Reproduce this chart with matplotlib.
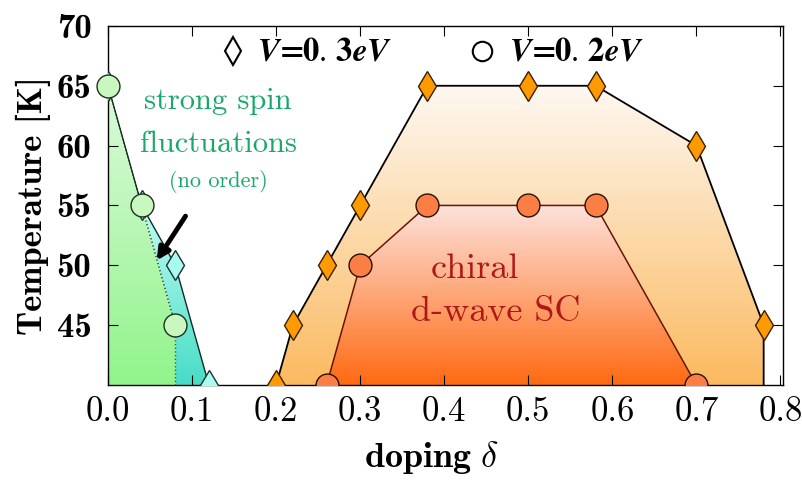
import numpy as np
import matplotlib
matplotlib.use("Agg")
import matplotlib.pyplot as plt
from matplotlib.colors import LinearSegmentedColormap
from matplotlib.patches import Polygon

# ---- data ----
# left region (strong spin fluctuations)
left_circ_x = [0.00, 0.04, 0.08]
left_circ_T = [65, 55, 45]
left_diam_x = [0.00, 0.04, 0.08, 0.12]
left_diam_T = [65, 55, 50, 40]
# right region (chiral d-wave SC)
sc_diam_x = [0.20, 0.22, 0.26, 0.30, 0.38, 0.50, 0.58, 0.70, 0.78]
sc_diam_T = [40, 45, 50, 55, 65, 65, 65, 60, 45]
sc_circ_x = [0.26, 0.30, 0.38, 0.50, 0.58, 0.70]
sc_circ_T = [40, 50, 55, 55, 55, 40]
xticks = [0.0, 0.1, 0.2, 0.3, 0.4, 0.5, 0.6, 0.7, 0.8]
yticks = [45, 50, 55, 60, 65, 70]

fig = plt.figure(figsize=(8.02, 4.8), dpi=100)
ax = fig.add_axes([0.1347, 0.198, 0.8416, 0.748])
ax.set_xlim(0.0, 0.803)
ax.set_ylim(40, 70)
YMIN = 40


def gradient_fill(xs, ys, c_top, c_bot, y_top, z):
    poly = Polygon(np.column_stack([xs, ys]), closed=True, facecolor='none',
                   edgecolor='none', transform=ax.transData)
    ax.add_patch(poly)
    cmap = LinearSegmentedColormap.from_list('g', [c_bot, c_top])
    grad = np.linspace(0, 1, 256).reshape(-1, 1)
    im = ax.imshow(grad, cmap=cmap, extent=[min(xs), max(xs), YMIN, y_top],
                   origin='lower', aspect='auto', zorder=z, interpolation='bilinear')
    im.set_clip_path(poly)


# outer orange region (V=0.3)
ox = [sc_diam_x[0]] + sc_diam_x + [sc_diam_x[-1]]
oy = [YMIN] + sc_diam_T + [YMIN]
gradient_fill(ox, oy, '#fef8f2', '#fbba60', 65, 1)
# inner red/orange region (V=0.2)
ix = sc_circ_x
iy = sc_circ_T
gradient_fill(ix, iy, '#fde2dc', '#ff6a12', 55, 1.1)

# cyan region (between diamond line and circle line)
cx = left_diam_x + [left_circ_x[-1]] + left_circ_x[::-1]
cy = left_diam_T + [YMIN] + left_circ_T[::-1]
gradient_fill(cx, cy, '#c8fff6', '#48dcc6', 56, 1)
# green region
gx = left_circ_x + [left_circ_x[-1], left_circ_x[0]]
gy = left_circ_T + [YMIN, YMIN]
gradient_fill(gx, gy, '#dcfadb', '#92f48c', 65, 1.1)
ax.plot([left_circ_x[-1], left_circ_x[-1]], [left_circ_T[-1], YMIN],
        ls=':', color='#306050', lw=1, zorder=2)

# lines
ax.plot(ox, oy, color='black', lw=1.3, zorder=2)
ax.plot(sc_circ_x, sc_circ_T, color='#6a1408', lw=1.1, zorder=2)
ax.plot(left_diam_x, left_diam_T, color='#102a28', lw=1.0, zorder=2)
ax.plot(left_circ_x, left_circ_T, color='#203a20', lw=1.0, ls=':', zorder=2.1)

# markers
ax.plot(sc_diam_x, sc_diam_T, ls='none', marker='d', ms=15, mfc='#ff9a00',
        mec='#3a2000', mew=1.0, zorder=4)
ax.plot(sc_circ_x, sc_circ_T, ls='none', marker='o', ms=16.5, mfc='#fb7e44',
        mec='#2a1008', mew=1.0, zorder=4)
ax.plot(left_diam_x, left_diam_T, ls='none', marker='d', ms=15, mfc='#a8fbef',
        mec='#203030', mew=1.0, zorder=4)
ax.plot(left_circ_x, left_circ_T, ls='none', marker='o', ms=16.5, mfc='#c8f8c0',
        mec='#203020', mew=1.0, zorder=5, clip_on=False)

# ticks
ax.set_xticks(xticks)
ax.set_yticks(yticks)
ax.set_xticklabels(['%.1f' % v for v in xticks], family='cmr10', fontsize=25)
ax.set_yticklabels([str(v) for v in yticks], family='cmb10', fontsize=25)
ax.tick_params(direction='in', top=True, right=True, length=7, width=0.8)
ax.tick_params(axis='x', pad=8)
ax.tick_params(axis='y', pad=12)
for s in ax.spines.values():
    s.set_linewidth(1.0)

ax.set_xlabel(r'$\mathbf{doping}\ \delta$', fontsize=26, math_fontfamily='cm',
              labelpad=8, x=0.48)
ax.set_ylabel('Temperature [K]', family='cmb10', fontsize=25, labelpad=4)

# annotations
green = '#1aa86a'
ax.text(0.131, 63.7, 'strong spin', family='cmr10', fontsize=22, color=green,
        ha='center', va='center')
ax.text(0.131, 60.1, 'fluctuations', family='cmr10', fontsize=22, color=green,
        ha='center', va='center')
ax.text(0.131, 57.0, '(no order)', family='cmr10', fontsize=16, color=green,
        ha='center', va='center')
red = '#b01818'
ax.text(0.437, 49.7, 'chiral', family='cmr10', fontsize=26, color=red,
        ha='center', va='center', zorder=6)
ax.text(0.461, 46.1, 'd-wave SC', family='cmr10', fontsize=26, color=red,
        ha='center', va='center', zorder=6)
ax.annotate('', xy=(0.056, 50.2), xytext=(0.094, 54.3),
            arrowprops=dict(arrowstyle='-|>', lw=3.5, color='black',
                            mutation_scale=18), zorder=6)

# legend-like labels
ax.plot([0.149], [67.9], ls='none', marker='d', ms=14, mfc='white', mec='black',
        mew=1.5, zorder=6)
ax.text(0.177, 67.9, r'$\boldsymbol{V\!=\!0.\,3eV}$', fontsize=23.5, math_fontfamily='stix',
        ha='left', va='center')
ax.plot([0.445], [67.9], ls='none', marker='o', ms=14, mfc='white', mec='black',
        mew=1.5, zorder=6)
ax.text(0.477, 67.9, r'$\boldsymbol{V\!=\!0.\,2eV}$', fontsize=23.5, math_fontfamily='stix',
        ha='left', va='center')

fig.savefig('out.png', dpi=100)
